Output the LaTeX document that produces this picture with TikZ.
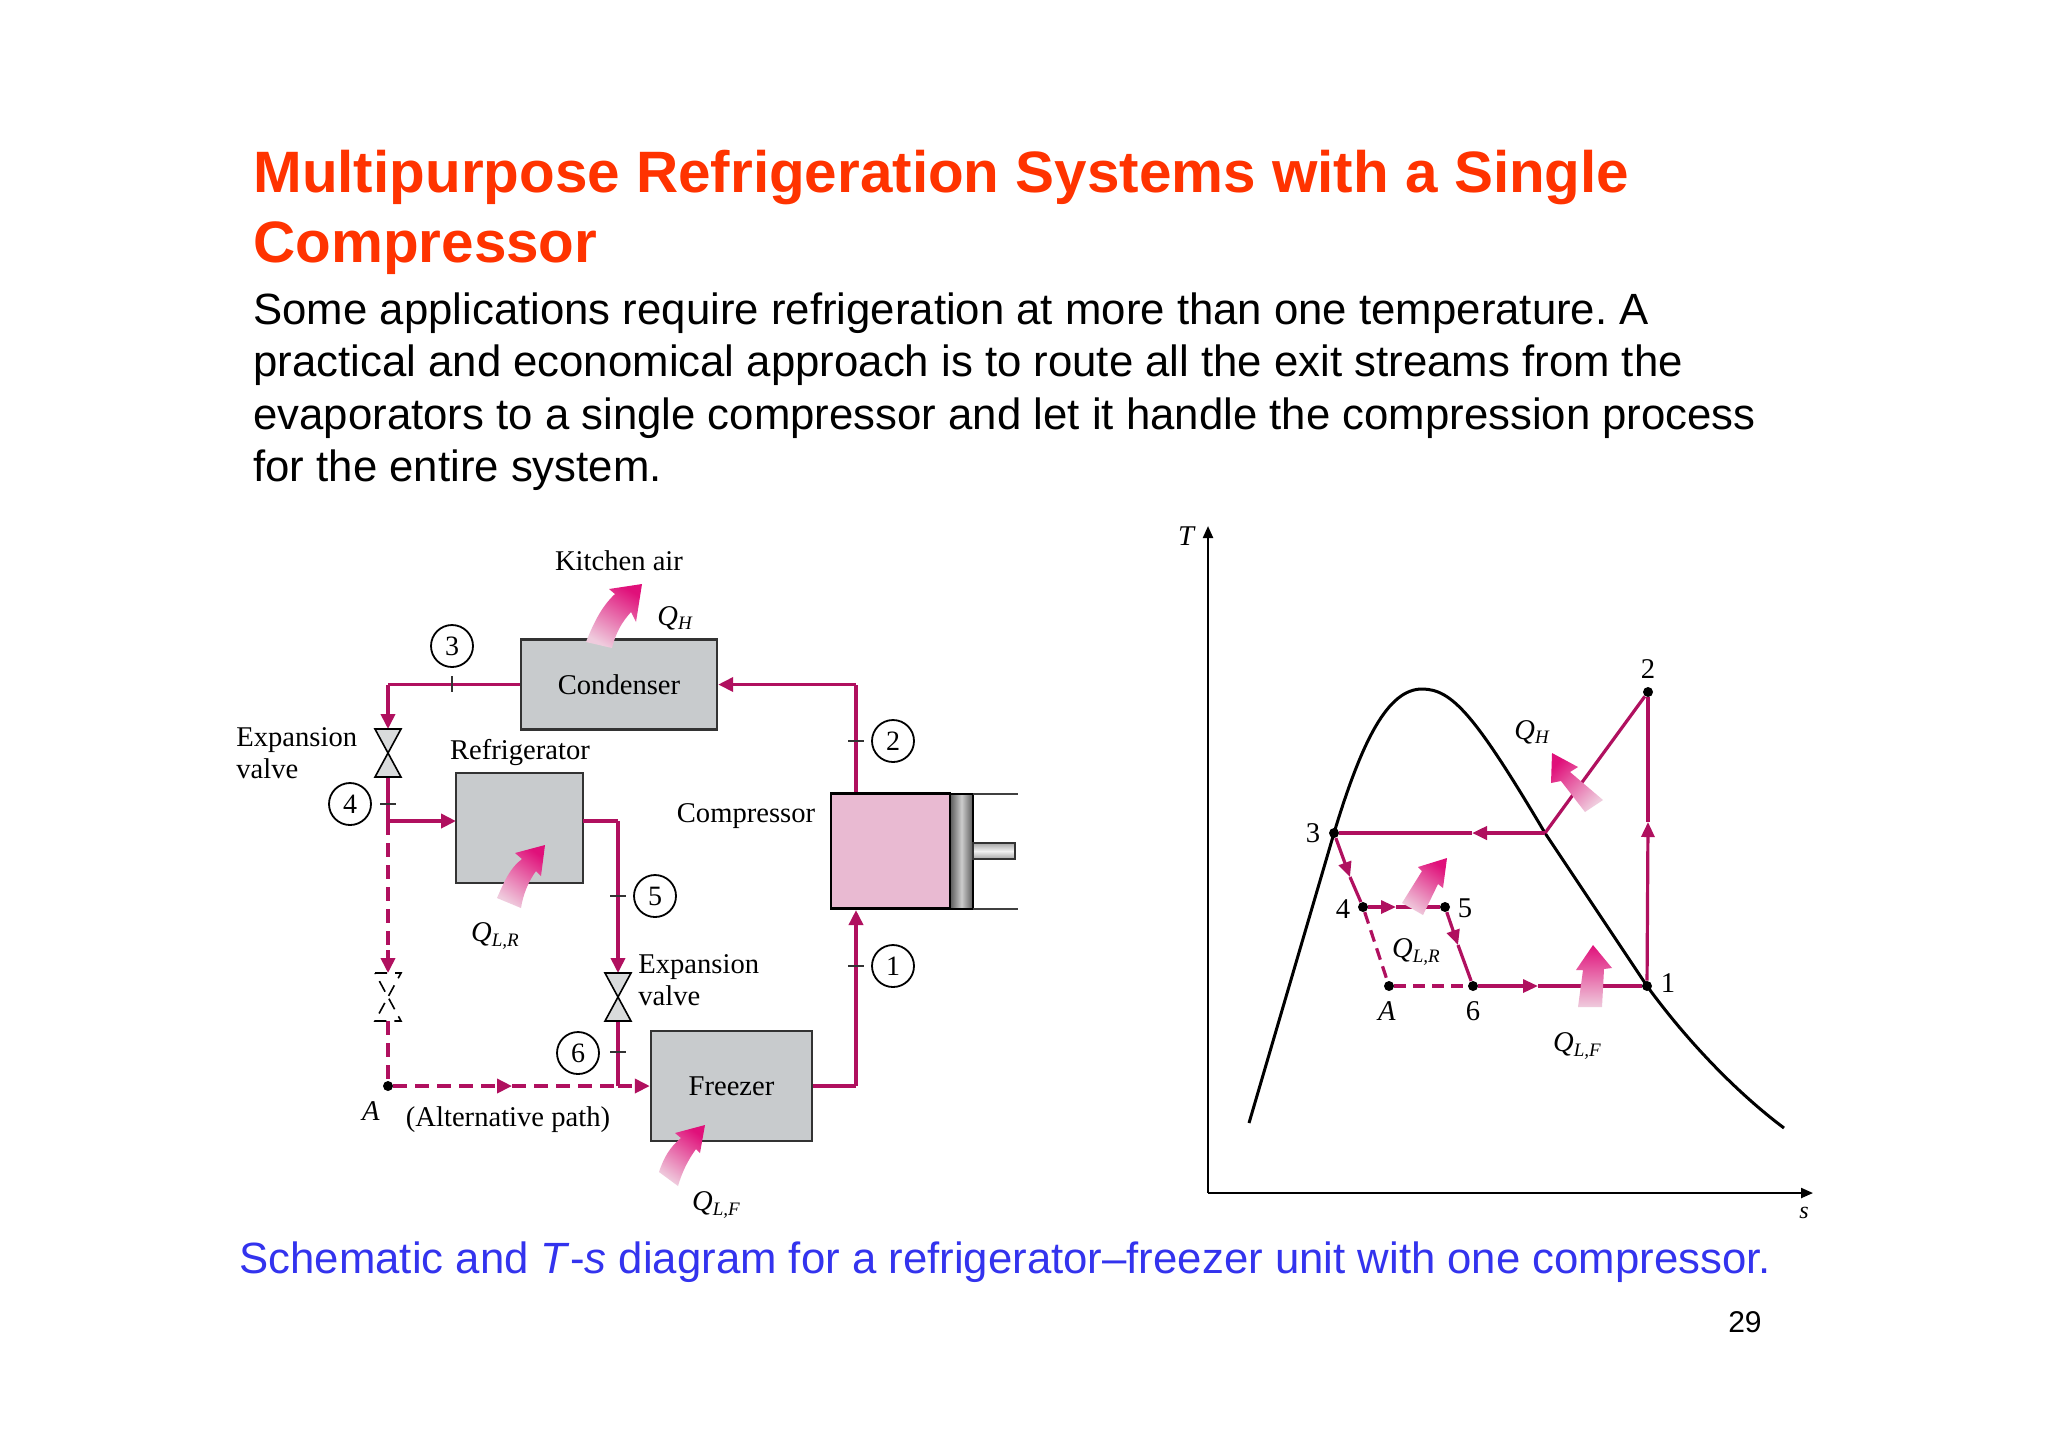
\documentclass[tikz,border=0pt]{standalone}
\usepackage{fontspec}
\setmainfont{Liberation Serif}
\newfontfamily\arialfont{Liberation Sans}
\usetikzlibrary{arrows.meta}
\definecolor{pipecol}{HTML}{B0105F}
\definecolor{titlecol}{HTML}{FF3300}
\definecolor{capcol}{HTML}{3333EE}
\definecolor{boxgray}{HTML}{C8CBCD}
\definecolor{comppink}{HTML}{E9BAD2}
\definecolor{heatA}{HTML}{E0107A}
\definecolor{heatB}{HTML}{EFCBDD}
\newcommand{\QL}[1]{\textit{Q}\raisebox{-0.35ex}{\fontsize{9.5}{10}\selectfont\textit{L,#1}}}
\newcommand{\QH}{\textit{Q}\raisebox{-0.35ex}{\fontsize{9.5}{10}\selectfont\textit{H}}}
\tikzset{
  pipe/.style={draw=pipecol,line width=1.8pt},
  pipedash/.style={draw=pipecol,line width=1.8pt,dash pattern=on 7pt off 4pt},
  head/.style={-{Triangle[length=7.5pt,width=7pt]}},
  lab/.style={font=\fontsize{14.3}{17}\selectfont,inner sep=0pt,align=left},
  state/.style={circle,draw=black,line width=0.9pt,minimum size=21pt,inner sep=0pt,font=\fontsize{14}{14}\selectfont},
  unit/.style={rectangle,draw=black!80,line width=1.2pt,fill=boxgray,inner sep=0pt,font=\fontsize{14.3}{17}\selectfont},
  heat/.style={top color=heatA,bottom color=heatB,draw=none},
  tick/.style={draw=black!80,line width=0.7pt},
  pt/.style={circle,fill=black,inner sep=0pt,minimum size=5pt},
  cyc/.style={draw=pipecol,line width=1.6pt},
  cycdash/.style={draw=pipecol,line width=1.6pt,dash pattern=on 6pt off 3.5pt},
  cychead/.style={-{Triangle[length=7.5pt,width=6.5pt]}},
  valve/.pic={
    \filldraw[fill=boxgray!70,draw=black,line width=0.8pt] (-13,-24) -- (13,-24) -- (-13,24) -- (13,24) -- cycle;
  },
  dvalve/.pic={
    \draw[black,line width=0.8pt,dash pattern=on 6pt off 4pt] (-13,-24) -- (13,-24) -- (-13,24) -- (13,24) -- cycle;
  }
}
\begin{document}
\frenchspacing
\begin{tikzpicture}[x=0.5pt,y=-0.5pt]
\useasboundingbox (0,0) rectangle (2048,1448);
\fill[white] (0,0) rectangle (2048,1448);
% title and text
\node[anchor=base west,inner sep=0pt,text=titlecol,font=\arialfont\bfseries\fontsize{29.2}{35}\selectfont] (t1) at (253,192) {Multipurpose Refrigeration Systems with a Single};
\node[anchor=base west,inner sep=0pt,text=titlecol,font=\arialfont\bfseries\fontsize{29.2}{35}\selectfont] (t2) at (253,262) {Compressor};
\node[anchor=base west,inner sep=0pt,font=\arialfont\fontsize{21.87}{26}\selectfont] (b1) at (253,324) {Some applications require refrigeration at more than one temperature. A};
\node[anchor=base west,inner sep=0pt,font=\arialfont\fontsize{21.87}{26}\selectfont] (b2) at (253,376) {practical and economical approach is to route all the exit streams from the};
\node[anchor=base west,inner sep=0pt,font=\arialfont\fontsize{21.87}{26}\selectfont] (b3) at (253,429) {evaporators to a single compressor and let it handle the compression process};
\node[anchor=base west,inner sep=0pt,font=\arialfont\fontsize{21.87}{26}\selectfont] (b4) at (253,481) {for the entire system.};
\node[anchor=base west,inner sep=0pt,text=capcol,font=\arialfont\fontsize{21.87}{26}\selectfont] (cap) at (239,1273) {Schematic and \textit{T}-\textit{s} diagram for a refrigerator–freezer unit with one compressor.};
\node[anchor=base east,inner sep=0pt,font=\arialfont\fontsize{15}{18}\selectfont] (pg) at (1762,1332) {29};

% units
\node[unit,minimum width=98pt,minimum height=45pt] (cond) at (619,684.5) {Condenser};
\node[unit,minimum width=63.5pt,minimum height=55pt] (refr) at (519.5,828) {};
\node[unit,minimum width=80.5pt,minimum height=55pt] (frz) at (731.5,1086) {Freezer};
% compressor
\node[rectangle,draw=black,line width=1.2pt,fill=comppink,minimum width=59.5pt,minimum height=57.5pt,inner sep=0pt] (comp) at (890.5,851) {};
\shade[left color=black!65,right color=black!65,middle color=black!20,draw=black,line width=0.8pt] (950,794) rectangle (973,909);
\draw[black!75,line width=1.1pt] (973,794) -- (1018,794) (973,909) -- (1018,909);
\shade[top color=black!35,bottom color=black!35,middle color=black!5,draw=black!80,line width=0.8pt] (973,843) rectangle (1015,859);

% junctions
\coordinate (j3) at (388,684.5);
\coordinate (j3a) at (388,729);
\coordinate (v1b) at (388,777);
\coordinate (j4) at (388,821);
\coordinate (refrin) at (456,821);
\coordinate (refrout) at (583,821);
\coordinate (j5) at (618,821);
\coordinate (v3t) at (618,973);
\coordinate (v3b) at (618,1021);
\coordinate (j6) at (618,1086);
\coordinate (v2t) at (388,973);
\coordinate (v2d) at (388,950);
\coordinate (v2b) at (388,1021);
\coordinate (j2) at (856,684.5);
\coordinate (j1) at (856,1086);
\coordinate (compbot) at (856,910);
\coordinate (altm) at (512,1086);

% pipes
\draw[pipe] (cond.west) -- (j3);
\draw[pipe,head] (j3) -- (j3a);
\draw[pipe] (v1b) -- (j4);
\draw[pipe,line width=2.4pt,head] (j4) -- (refrin);
\draw[pipedash,line width=2.2pt] (j4) -- (v2d);
\draw[pipe,head] (v2d) -- (v2t);
\node[pt] (A) at (388,1086) {};
\draw[pipedash] (v2b) -- (A);
\draw[pipe,line width=2.4pt] (refrout) -- (j5);
\draw[pipe,head] (j5) -- (v3t);
\draw[pipe] (v3b) -- (j6);
\draw[pipedash,head] (A) -- (altm);
\draw[pipedash] (altm) -- (j6);
\draw[pipedash,head] (j6) -- (frz.west);
\draw[pipe] (frz.east) -- (j1);
\draw[pipe,head] (j1) -- (compbot);
\draw[pipe] (comp.north -| j2) -- (j2);
\draw[pipe,head] (j2) -- (cond.east);

% valves
\pic at (388,753) {valve};
\pic at (618,997) {valve};
\pic at (388,997) {dvalve};

% ticks
\draw[tick] (452,676) -- (452,692);
\draw[tick] (380,804) -- (396,804);
\draw[tick] (610,896) -- (626,896);
\draw[tick] (610,1052) -- (626,1052);
\draw[tick] (848,966) -- (864,966);
\draw[tick] (848,741) -- (864,741);

% state circles
\node[state] (s3) at (452,646) {3};
\node[state] (s4) at (350,804) {4};
\node[state] (s5) at (655,896) {5};
\node[state] (s6) at (578,1053) {6};
\node[state] (s1) at (893,966) {1};
\node[state] (s2) at (893,741) {2};

% labels
\node[lab] (lk) at (619,561) {Kitchen air};
\node[lab] (lqh) at (675,618) {\QH};
\node[lab,anchor=west] (le1) at (236,753) {Expansion\\[-1pt]valve};
\node[lab] (lr) at (520,752) {Refrigerator};
\node[lab] (lc) at (746,816) {Compressor};
\node[lab] (lqr) at (495,936) {\QL{R}};
\node[lab,anchor=west] (le2) at (638,980) {Expansion\\[-1pt]valve};
\node[lab] (lap) at (508,1120) {(Alternative path)};
\node[lab] (la) at (371,1111) {\textit{A}};
\node[lab] (lqf) at (716,1205) {\QL{F}};

% heat arrows, schematic
\shade[heat,shading angle=-30] (586,642) .. controls (594,622) and (602,606) .. (615,594) -- (609,589) -- (642,584) -- (636,622) -- (631,612) .. controls (622,622) and (616,632) .. (612,648) -- cycle;
\shade[heat,shading angle=-35] (497,898) .. controls (505,880) and (510,868) .. (522,859) -- (515,853) -- (545,845) -- (541,876) -- (536,871) .. controls (528,882) and (523,895) .. (521,908) -- cycle;
\shade[heat,shading angle=-35] (659,1172) .. controls (664,1157) and (670,1147) .. (681,1138) -- (675,1133) -- (705,1125) -- (700,1153) -- (696,1149) .. controls (688,1160) and (682,1172) .. (678,1186) -- cycle;

% T-s axes
\coordinate (org) at (1208,1193);
\coordinate (ttop) at (1208,526);
\coordinate (send) at (1813,1193);
\draw[black,line width=1.1pt,-{Triangle[length=6pt,width=5pt]}] (org) -- (ttop);
\draw[black,line width=1.1pt,-{Triangle[length=6pt,width=5pt]}] (org) -- (send);
\node[lab] (lT) at (1187,536) {\textit{T}};
\node[lab,font=\fontsize{12}{14}\selectfont] (ls) at (1804,1213) {\textit{s}};

% dome
\draw[black,line width=1.5pt,line join=round] (1249,1123) -- (1334,833) .. controls (1362,740) and (1388,689) .. (1422,689) .. controls (1452,689) and (1475,715) .. (1545,833) -- (1647,986) .. controls (1690,1045) and (1740,1095) .. (1784,1128);

% T-s points
\node[pt] (p1) at (1647,986) {};
\node[pt] (p2) at (1648,692) {};
\node[pt] (p3) at (1334,833) {};
\node[pt] (p4) at (1363,907) {};
\node[pt] (p5) at (1445,907) {};
\node[pt] (p6) at (1473,986) {};
\node[pt] (pA) at (1389,986) {};
\coordinate (pc) at (1545,833);
\coordinate (m12) at (1648,822);
\coordinate (m23) at (1472,833);
\coordinate (m34) at (1350,877);
\coordinate (m45) at (1396,907);
\coordinate (m56) at (1458,945);
\coordinate (m61) at (1538,986);

% T-s cycle
\draw[cyc,cychead] (p1) -- (m12);
\draw[cyc] (m12) -- (p2);
\draw[cyc] (p2) -- (pc);
\draw[cyc,line width=2pt,cychead] (pc) -- (m23);
\draw[cyc,line width=2pt] (m23) -- (p3);
\draw[cyc,cychead] (p3) -- (m34);
\draw[cyc] (m34) -- (p4);
\draw[cyc,cychead] (p4) -- (m45);
\draw[cyc] (m45) -- (p5);
\draw[cyc,cychead] (p5) -- (m56);
\draw[cyc] (m56) -- (p6);
\draw[cyc,cychead] (p6) -- (m61);
\draw[cyc] (m61) -- (p1);
\draw[cycdash] (p4) -- (pA);
\draw[cycdash] (pA) -- (p6);

% heat arrows, T-s
\shade[heat,shading angle=45] (1603,800) -- (1585,812) -- (1561,781) -- (1551,783) -- (1552,753) -- (1578,767) -- (1570,772) -- cycle;
\shade[heat,shading angle=-35] (1402,903) -- (1423,915) -- (1438,884) -- (1443,888) -- (1447,858) -- (1418,867) -- (1422,871) -- cycle;
\shade[heat] (1578,1007) -- (1602,1007) -- (1604,969) -- (1612,968) -- (1593,945) -- (1576,970) -- (1583,970) -- cycle;

% T-s labels
\node[lab] (n1) at (1668,983) {1};
\node[lab] (n2) at (1648,669) {2};
\node[lab] (n3) at (1313,833) {3};
\node[lab] (n4) at (1343,909) {4};
\node[lab] (n5) at (1465,908) {5};
\node[lab] (n6) at (1473,1011) {6};
\node[lab] (nA) at (1387,1011) {\textit{A}};
\node[lab] (qh2) at (1532,732) {\QH};
\node[lab] (qr2) at (1416,952) {\QL{R}};
\node[lab] (qf2) at (1577,1046) {\QL{F}};
\end{tikzpicture}
\end{document}
